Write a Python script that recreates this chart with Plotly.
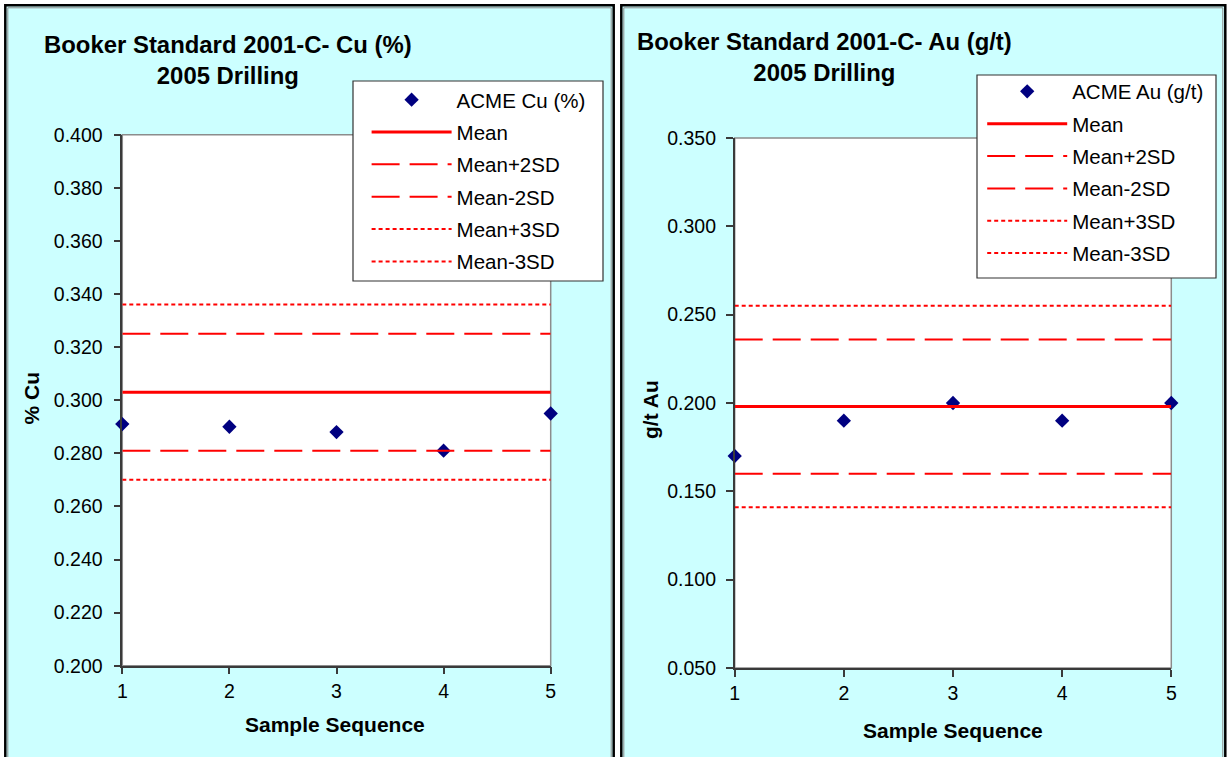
import plotly.graph_objects as go

# Canvas size (px)
W, H = 1231, 757

# ---- data ----
samples = [1, 2, 3, 4, 5]

cu_values = [0.291, 0.290, 0.288, 0.281, 0.295]
cu_limit_names = ["Mean", "Mean+2SD", "Mean-2SD", "Mean+3SD", "Mean-3SD"]
cu_limit_values = [0.303, 0.325, 0.281, 0.336, 0.270]
cu_ticks = [0.200, 0.220, 0.240, 0.260, 0.280, 0.300, 0.320, 0.340, 0.360, 0.380, 0.400]

au_values = [0.170, 0.190, 0.200, 0.190, 0.200]
au_limit_names = ["Mean", "Mean+2SD", "Mean-2SD", "Mean+3SD", "Mean-3SD"]
au_limit_values = [0.198, 0.236, 0.160, 0.255, 0.141]
au_ticks = [0.050, 0.100, 0.150, 0.200, 0.250, 0.300, 0.350]

# ---- styling ----
FONT = "Liberation Sans"
PANEL_BG = "#CCFFFF"
RED = "#FF0000"
NAVY = "#000080"
AXIS_COL = "#3a3a3a"
limit_styles = {
    "Mean": dict(color=RED, width=3, dash="solid"),
    "Mean+2SD": dict(color=RED, width=2, dash="28px,10px"),
    "Mean-2SD": dict(color=RED, width=2, dash="28px,10px"),
    "Mean+3SD": dict(color=RED, width=2, dash="4px,3px"),
    "Mean-3SD": dict(color=RED, width=2, dash="4px,3px"),
}


def px(x):
    """pixel x -> paper fraction"""
    return x / W


def py(y):
    """pixel y (from top) -> paper fraction"""
    return 1 - y / H


fig = go.Figure()

panels = [
    dict(values=cu_values, names=cu_limit_names, limits=cu_limit_values,
         xa="x", ya="y", legend="legend", label="ACME Cu (%)", grp="cu"),
    dict(values=au_values, names=au_limit_names, limits=au_limit_values,
         xa="x2", ya="y2", legend="legend2", label="ACME Au (g/t)", grp="au"),
]

for p in panels:
    fig.add_trace(go.Scatter(
        x=samples, y=p["values"], mode="markers", name=p["label"],
        marker=dict(symbol="diamond", size=11, color=NAVY),
        xaxis=p["xa"], yaxis=p["ya"], legend=p["legend"],
        legendgroup=p["grp"] + "0", cliponaxis=False,
    ))
    for i, (nm, val) in enumerate(zip(p["names"], p["limits"])):
        fig.add_trace(go.Scatter(
            x=[samples[0], samples[-1]], y=[val, val], mode="lines", name=nm,
            line=limit_styles[nm], xaxis=p["xa"], yaxis=p["ya"],
            legend=p["legend"], legendgroup=p["grp"] + str(i + 1),
        ))

# plot-area geometry (px)
left_box = dict(x0=122.3, x1=550.7, y0=134.7, y1=665.7)
right_box = dict(x0=734.7, x1=1171.3, y0=138, y1=668)

axis_common = dict(
    showline=True, linecolor=AXIS_COL, linewidth=1.5,
    ticks="outside", ticklen=7, tickwidth=1.5, tickcolor=AXIS_COL,
    showgrid=False, zeroline=False,
    tickfont=dict(family=FONT, size=19.5, color="#000000"),
)

legend_common = dict(
    xanchor="left", yanchor="top", bgcolor="rgba(0,0,0,0)", borderwidth=0,
    font=dict(family=FONT, size=20.5, color="#000000"),
    itemwidth=80, tracegroupgap=2.7, traceorder="grouped",
)

fig.update_layout(
    width=W, height=H,
    margin=dict(l=0, r=0, t=0, b=0, autoexpand=False),
    paper_bgcolor="#FFFFFF", plot_bgcolor="#FFFFFF",
    xaxis=dict(domain=[px(left_box["x0"]), px(left_box["x1"])], range=[1, 5],
               tickvals=samples, anchor="y", **axis_common),
    yaxis=dict(domain=[py(left_box["y1"]), py(left_box["y0"])], range=[cu_ticks[0], cu_ticks[-1]],
               tickvals=cu_ticks, tickformat=".3f", anchor="x", ticklabelstandoff=7,
               **axis_common),
    xaxis2=dict(domain=[px(right_box["x0"]), px(right_box["x1"])], range=[1, 5],
                tickvals=samples, anchor="y2", **axis_common),
    yaxis2=dict(domain=[py(right_box["y1"]), py(right_box["y0"])], range=[au_ticks[0], au_ticks[-1]],
                tickvals=au_ticks, tickformat=".3f", anchor="x2", ticklabelstandoff=6,
                **axis_common),
    showlegend=True,
    legend=dict(x=px(366.6), y=py(79.8), **legend_common),
    legend2=dict(x=px(982.2), y=py(71.5), **legend_common),
)

shapes = []
# panel backgrounds with double border
for (x0, x1) in [(5.3, 613.7), (621.3, 1225.3)]:
    shapes.append(dict(type="rect", xref="paper", yref="paper", layer="below",
                       x0=px(x0), x1=px(x1), y0=py(H + 20), y1=py(5.3),
                       fillcolor=PANEL_BG, line=dict(color="#000000", width=2.5)))
    shapes.append(dict(type="rect", xref="paper", yref="paper", layer="below",
                       x0=px(x0 + 2.5), x1=px(x1 - 2.5), y0=py(H + 20), y1=py(7.8),
                       fillcolor="rgba(0,0,0,0)", line=dict(color="#8a8a8a", width=1)))
# white plot areas with grey frame
for xa, ya in [("x", "y"), ("x2", "y2")]:
    shapes.append(dict(type="rect", xref=xa + " domain", yref=ya + " domain", layer="below",
                       x0=0, x1=1, y0=0, y1=1, fillcolor="#FFFFFF",
                       line=dict(color="#8c8c8c", width=1.5)))
# legend frames
for (x0, y0, x1, y1) in [(353, 81, 603, 281), (977, 75, 1216, 278)]:
    shapes.append(dict(type="rect", xref="paper", yref="paper", layer="above",
                       x0=px(x0), x1=px(x1), y0=py(y1), y1=py(y0),
                       fillcolor="#FFFFFF", line=dict(color="#333333", width=1.2)))
fig.update_layout(shapes=shapes)

title_font = dict(family=FONT, size=23.9, color="#000000")
axis_title_font = dict(family=FONT, size=21, color="#000000")
ann = [
    dict(text="<b>Booker Standard 2001-C- Cu (%)<br>2005 Drilling</b>",
         x=px(228), y=py(59.5), font=title_font),
    dict(text="<b>Booker Standard 2001-C- Au (g/t)<br>2005 Drilling</b>",
         x=px(824), y=py(56.5), font=title_font),
    dict(text="<b>Sample Sequence</b>", x=px(335), y=py(724), font=axis_title_font),
    dict(text="<b>Sample Sequence</b>", x=px(953), y=py(730), font=axis_title_font),
    dict(text="<b>% Cu</b>", x=px(31.5), y=py(398), font=axis_title_font, textangle=-90),
    dict(text="<b>g/t Au</b>", x=px(651), y=py(410), font=axis_title_font, textangle=-90),
]
for a in ann:
    a.update(xref="paper", yref="paper", showarrow=False, xanchor="center", yanchor="middle")
fig.update_layout(annotations=ann)

fig.write_html("out.html")
